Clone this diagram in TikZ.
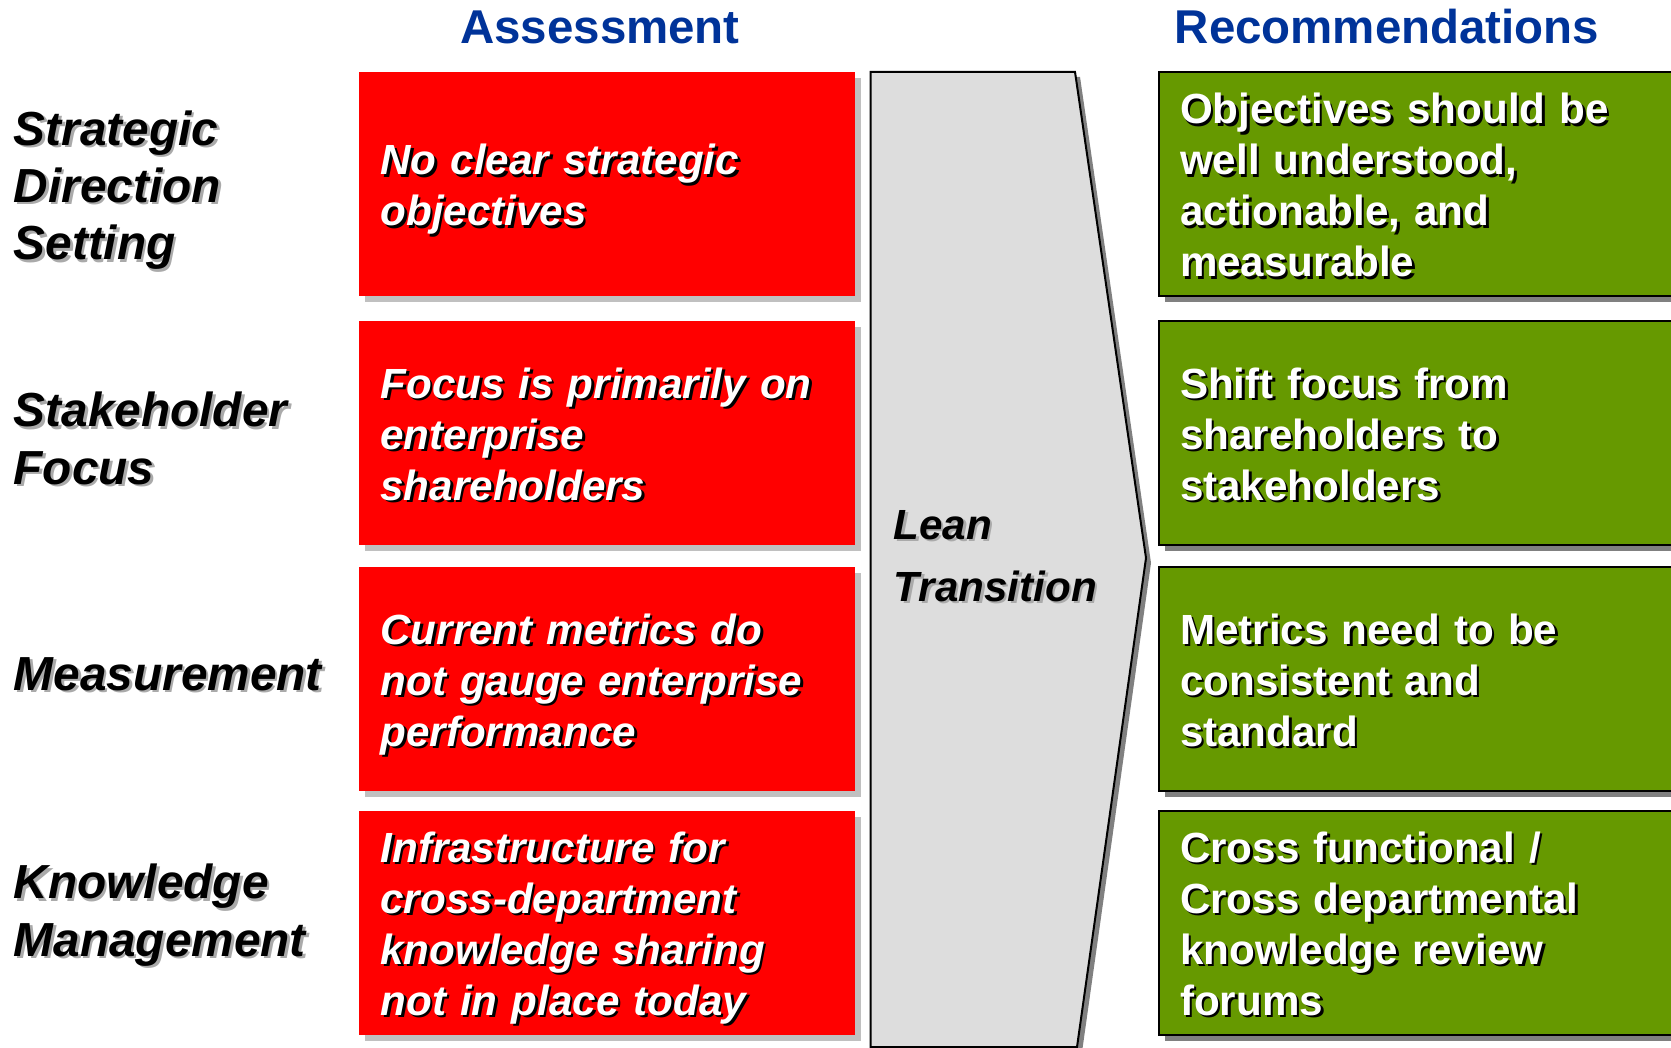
\documentclass[tikz,border=0pt]{standalone}
\usepackage{fontspec}
\setmainfont{Liberation Sans}
\usetikzlibrary{shadows}
\definecolor{cTitle}{RGB}{0,51,153}
\definecolor{cRed}{RGB}{255,0,0}
\definecolor{cGreen}{RGB}{102,153,0}
\definecolor{cPane}{RGB}{221,221,221}
\definecolor{cDrop}{RGB}{192,192,192}
\definecolor{cDropDark}{RGB}{128,128,128}
\definecolor{cLabelShade}{RGB}{170,170,170}

% lines of text with a small drop shadow behind them (optional arg lowers the lines)
\newcommand{\castlines}[3][0mm]{%
  \noindent
  \def\castbody{\begin{tabular}{@{}l@{}}#3\end{tabular}}%
  \raisebox{#1}[\height][\depth]{%
    \makebox[0pt][l]{\hspace{0.25mm}\raisebox{-0.25mm}[0pt][0pt]{\color{#2}\castbody}}\castbody}}

\begin{document}
\begin{tikzpicture}[x=0.1mm, y=-0.1mm,
    coltitle/.style={inner sep=0pt, text=cTitle, font=\fontsize{13.5}{16}\selectfont\bfseries},
    rowlabel/.style={anchor=west, inner sep=0pt, text=black, font=\fontsize{13.6}{16.3}\selectfont\bfseries\itshape},
    redbox/.style={fill=cRed, minimum width=49.6mm, minimum height=22.4mm, text width=45.3mm,
        align=left, inner sep=0pt, text=white, font=\fontsize{12}{14.5}\selectfont\bfseries\itshape,
        drop shadow={shadow xshift=0.6mm, shadow yshift=-0.6mm, fill=cDrop, opacity=1}},
    recbox/.style={fill=cGreen, draw=black, line width=0.2mm, minimum width=52mm, minimum height=22.4mm,
        text width=47.8mm, align=left, inner sep=0pt, text=white, font=\fontsize{12}{14.5}\selectfont\bfseries,
        drop shadow={shadow xshift=0.6mm, shadow yshift=-0.6mm, fill=cDropDark, opacity=1}},
    pane/.style={fill=cPane, draw=black, line width=0.2mm,
        drop shadow={shadow xshift=0.5mm, shadow yshift=-0.5mm, fill=cDropDark, opacity=1}},
    leantext/.style={anchor=west, inner sep=0pt, text=black, font=\fontsize{12}{17.6}\selectfont\bfseries\itshape}]

    \useasboundingbox (0,0) rectangle (1671,1048);

    % --- Column titles ---
    \node[coltitle] (assess) at (600,27) {Assessment};
    \node[coltitle] (recom) at (1387,27) {Recommendations};

    % --- Row labels ---
    \node[rowlabel] (strat) at (13,191) {\castlines{cLabelShade}{Strategic\\Direction\\Setting}};
    \node[rowlabel] (stake) at (13,444) {\castlines{cLabelShade}{Stakeholder\\Focus}};
    \node[rowlabel] (meas) at (13,679) {\castlines{cLabelShade}{Measurement}};
    \node[rowlabel] (know) at (13,916) {\castlines{cLabelShade}{Knowledge\\Management}};

    % --- Lean transition pane ---
    \draw[pane] (870.7,72) -- (1075,72) -- (1146,558) -- (1077,1047) -- (870.7,1047) -- cycle;
    \node[leantext] (lean) at (893,558) {\castlines{cLabelShade}{Lean\\Transition}};

    % --- Assessment (red) ---
    \node[redbox] (as1) at (607,184) {\castlines[-0.62mm]{black}{No clear strategic\\objectives}};
    \node[redbox] (as2) at (607,433) {\castlines[-0.62mm]{black}{Focus is primarily on\\enterprise\\shareholders}};
    \node[redbox] (as3) at (607,679) {\castlines[-0.62mm]{black}{Current metrics do\\not gauge enterprise\\performance}};
    \node[redbox] (as4) at (607,922.5) {\castlines[-0.62mm]{black}{Infrastructure for\\cross-department\\knowledge sharing\\not in place today}};

    % --- Recommendations (green) ---
    \node[recbox] (rc1) at (1419,184) {\castlines[-0.62mm]{black}{Objectives should be\\well understood,\\actionable, and\\measurable}};
    \node[recbox] (rc2) at (1419,433) {\castlines[-0.62mm]{black}{Shift focus from\\shareholders to\\stakeholders}};
    \node[recbox] (rc3) at (1419,679) {\castlines[-0.62mm]{black}{Metrics need to be\\consistent and\\standard}};
    \node[recbox] (rc4) at (1419,922.5) {\castlines[-0.62mm]{black}{Cross functional /\\Cross departmental\\knowledge review\\forums}};

\end{tikzpicture}
\end{document}
